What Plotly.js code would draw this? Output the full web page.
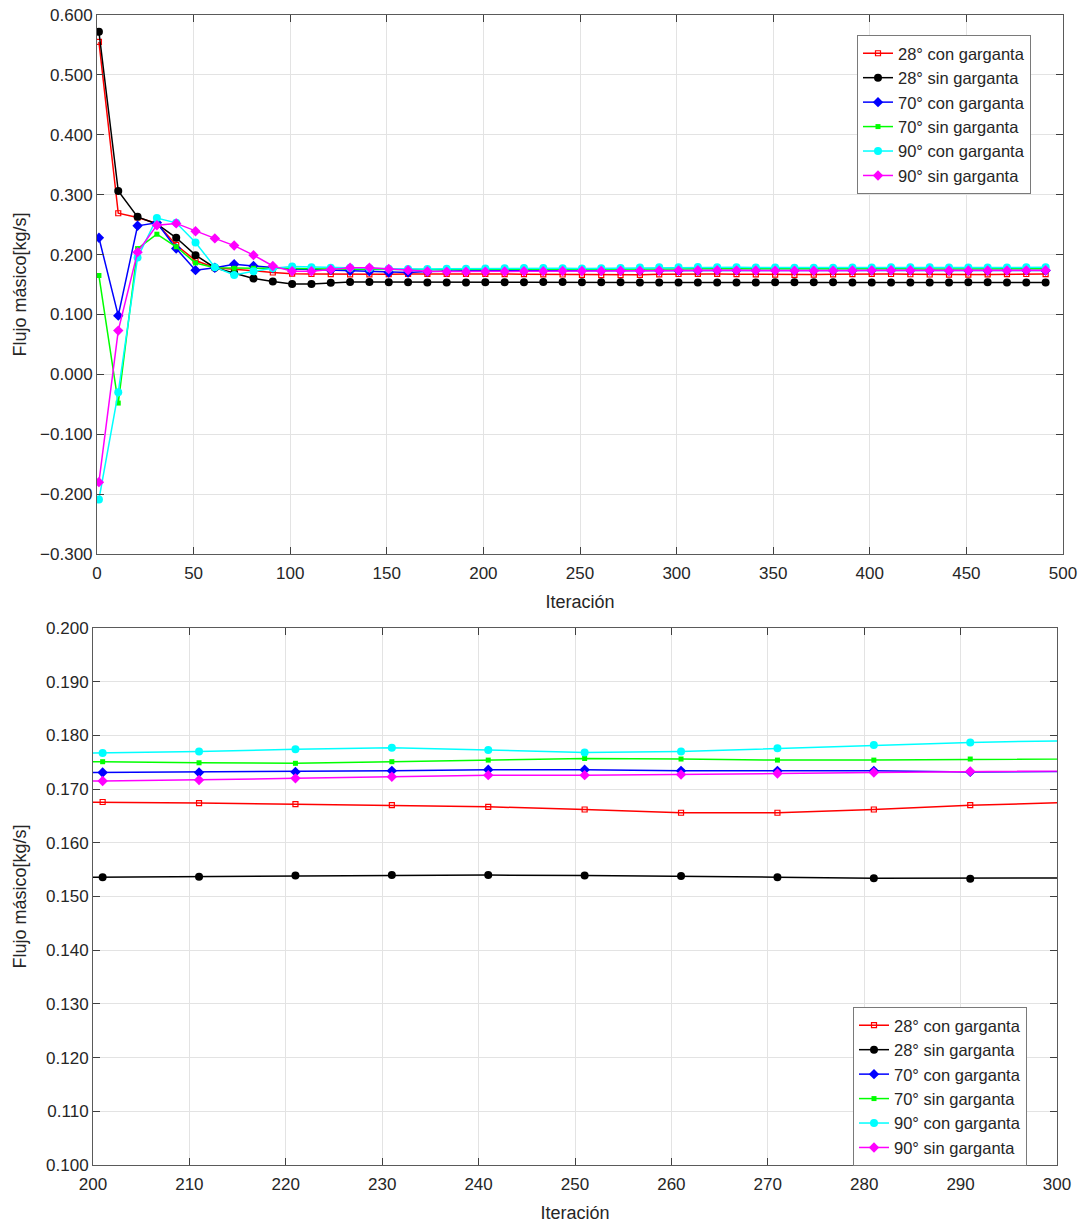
<!DOCTYPE html>
<html>
<head>
<meta charset="utf-8">
<script src="https://cdn.plot.ly/plotly-3.0.1.min.js"></script>
<style>
  html, body { margin: 0; padding: 0; background: #ffffff; }
  #chart { width: 1081px; height: 1229px; }
</style>
</head>
<body>
<div id="chart"></div>
<script>
// Iteration numbers (x values)
const iteracion = [1, 11, 21, 31, 41, 51, 61, 71, 81, 91,
  101, 111, 121, 131, 141, 151, 161, 171, 181, 191,
  201, 211, 221, 231, 241, 251, 261, 271, 281, 291,
  301, 311, 321, 331, 341, 351, 361, 371, 381, 391,
  401, 411, 421, 431, 441, 451, 461, 471, 481, 491];

const seriesNames = ["28° con garganta", "28° sin garganta", "70° con garganta",
  "70° sin garganta", "90° con garganta", "90° sin garganta"];

const con28 = [0.555, 0.269, 0.262, 0.252, 0.216, 0.190, 0.178, 0.176, 0.173, 0.170,
  0.1680, 0.1675, 0.1672, 0.1670, 0.1670, 0.1672, 0.1675, 0.1677, 0.1678, 0.1677,
  0.1676, 0.1674, 0.1672, 0.1670, 0.1667, 0.1662, 0.1656, 0.1656, 0.1662, 0.1670,
  0.1675, 0.1677, 0.1676, 0.1672, 0.1668, 0.1664, 0.1662, 0.1665, 0.1670, 0.1674,
  0.1676, 0.1675, 0.1671, 0.1667, 0.1664, 0.1665, 0.1669, 0.1673, 0.1675, 0.1674];

const sin28 = [0.572, 0.306, 0.263, 0.251, 0.228, 0.199, 0.178, 0.169, 0.160, 0.155,
  0.151, 0.151, 0.153, 0.1540, 0.1540, 0.1538, 0.1536, 0.1535, 0.1535, 0.1535,
  0.1536, 0.1537, 0.1539, 0.1540, 0.1540, 0.1539, 0.1538, 0.1536, 0.1534, 0.1533,
  0.1532, 0.1532, 0.1533, 0.1534, 0.1535, 0.1536, 0.1537, 0.1537, 0.1536, 0.1535,
  0.1534, 0.1533, 0.1533, 0.1534, 0.1535, 0.1536, 0.1536, 0.1535, 0.1534, 0.1534];

const con70 = [0.228, 0.098, 0.248, 0.253, 0.210, 0.174, 0.178, 0.184, 0.181, 0.178,
  0.176, 0.175, 0.174, 0.173, 0.172, 0.170, 0.170, 0.1715, 0.1725, 0.1730,
  0.1731, 0.1731, 0.1732, 0.1734, 0.1736, 0.1736, 0.1734, 0.1734, 0.1734, 0.1732,
  0.1734, 0.1735, 0.1736, 0.1737, 0.1737, 0.1736, 0.1735, 0.1734, 0.1734, 0.1735,
  0.1736, 0.1737, 0.1737, 0.1736, 0.1735, 0.1734, 0.1735, 0.1736, 0.1736, 0.1735];

const sin70 = [0.165, -0.048, 0.210, 0.234, 0.213, 0.186, 0.178, 0.177, 0.177, 0.177,
  0.177, 0.1765, 0.176, 0.1755, 0.175, 0.175, 0.175, 0.1752, 0.1752, 0.1751,
  0.1751, 0.1749, 0.1748, 0.1751, 0.1754, 0.1757, 0.1756, 0.1754, 0.1754, 0.1756,
  0.1759, 0.1761, 0.1762, 0.1762, 0.1761, 0.1759, 0.1758, 0.1758, 0.1759, 0.1761,
  0.1762, 0.1763, 0.1762, 0.1760, 0.1759, 0.1759, 0.1760, 0.1762, 0.1763, 0.1763];

const con90 = [-0.209, -0.030, 0.195, 0.261, 0.253, 0.220, 0.179, 0.166, 0.172, 0.177,
  0.180, 0.179, 0.178, 0.178, 0.177, 0.1765, 0.176, 0.176, 0.1763, 0.1765,
  0.1767, 0.1770, 0.1774, 0.1777, 0.1773, 0.1768, 0.1770, 0.1776, 0.1782, 0.1787,
  0.1790, 0.1791, 0.1790, 0.1788, 0.1785, 0.1782, 0.1780, 0.1779, 0.1780, 0.1782,
  0.1785, 0.1787, 0.1788, 0.1787, 0.1785, 0.1783, 0.1782, 0.1783, 0.1786, 0.1789];

const sin90 = [-0.180, 0.073, 0.204, 0.249, 0.252, 0.239, 0.227, 0.215, 0.199, 0.181,
  0.172, 0.172, 0.175, 0.178, 0.178, 0.176, 0.174, 0.172, 0.1715, 0.1714,
  0.1715, 0.1717, 0.1720, 0.1723, 0.1726, 0.1726, 0.1727, 0.1729, 0.1731, 0.1733,
  0.1736, 0.1737, 0.1737, 0.1736, 0.1734, 0.1732, 0.1731, 0.1731, 0.1732, 0.1734,
  0.1736, 0.1737, 0.1737, 0.1736, 0.1734, 0.1733, 0.1733, 0.1734, 0.1736, 0.1737];

const seriesValues = [con28, sin28, con70, sin70, con90, sin90];
const seriesColors = ["#ff0000", "#000000", "#0000ff", "#00ff00", "#00ffff", "#ff00ff"];
const seriesSymbols = ["square-open", "circle", "diamond", "square", "circle", "diamond"];
const seriesSizes = [5, 8, 8, 5, 8, 8];

const traces = [];
[["x", "y", "legend"], ["x2", "y2", "legend2"]].forEach(([xa, ya, lg]) => {
  seriesValues.forEach((vals, i) => {
    traces.push({
      type: "scatter",
      mode: "lines+markers",
      name: seriesNames[i],
      x: iteracion,
      y: vals,
      xaxis: xa,
      yaxis: ya,
      legend: lg,
      line: { color: seriesColors[i], width: 1.5 },
      marker: {
        color: seriesColors[i],
        symbol: seriesSymbols[i],
        size: seriesSizes[i],
        line: { color: seriesColors[i], width: seriesSymbols[i] === "square-open" ? 1.2 : 0 }
      }
    });
  });
});

const font = "Liberation Sans, Arial, Helvetica, sans-serif";
const txtColor = "#262626";
const axisCommon = {
  showline: true,
  linecolor: "#5a5a5a",
  linewidth: 1,
  mirror: "ticks",
  ticks: "inside",
  ticklen: 7,
  tickcolor: "#404040",
  showgrid: true,
  gridcolor: "#e3e3e3",
  gridwidth: 1,
  zeroline: false,
  tickfont: { family: font, size: 17, color: txtColor },
  automargin: false
};

const W = 1081, H = 1229;
const layout = {
  width: W,
  height: H,
  margin: { l: 0, r: 0, t: 0, b: 0 },
  paper_bgcolor: "#ffffff",
  plot_bgcolor: "#ffffff",
  font: { family: font, color: txtColor },
  showlegend: true,
  xaxis: Object.assign({}, axisCommon, {
    domain: [97 / W, 1063 / W],
    anchor: "y",
    range: [0, 500],
    dtick: 50,
    tick0: 0,
    ticklabelstandoff: 4,
    title: { text: "Iteración", font: { family: font, size: 18, color: txtColor }, standoff: 12 }
  }),
  yaxis: Object.assign({}, axisCommon, {
    domain: [1 - 554 / H, 1 - 15 / H],
    anchor: "x",
    range: [-0.3, 0.6],
    dtick: 0.1,
    tick0: 0,
    tickformat: ".3f",
    title: { text: "Flujo másico[kg/s]", font: { family: font, size: 18, color: txtColor }, standoff: 8 }
  }),
  xaxis2: Object.assign({}, axisCommon, {
    domain: [93 / W, 1057 / W],
    anchor: "y2",
    range: [200, 300],
    dtick: 10,
    tick0: 200,
    ticklabelstandoff: 4,
    title: { text: "Iteración", font: { family: font, size: 18, color: txtColor }, standoff: 12 }
  }),
  yaxis2: Object.assign({}, axisCommon, {
    domain: [1 - 1165 / H, 1 - 628 / H],
    anchor: "x2",
    range: [0.1, 0.2],
    dtick: 0.01,
    tick0: 0.1,
    tickformat: ".3f",
    title: { text: "Flujo másico[kg/s]", font: { family: font, size: 18, color: txtColor }, standoff: 14 }
  }),
  legend: {
    x: 1031 / W, xanchor: "right",
    y: 1 - 35 / H, yanchor: "top",
    bgcolor: "#ffffff",
    bordercolor: "#7a7a7a",
    borderwidth: 1,
    font: { family: font, size: 16.5, color: txtColor },
    itemwidth: 30,
    tracegroupgap: 0
  },
  legend2: {
    x: 1027 / W, xanchor: "right",
    y: 1 - 1007 / H, yanchor: "top",
    bgcolor: "#ffffff",
    bordercolor: "#7a7a7a",
    borderwidth: 1,
    font: { family: font, size: 16.5, color: txtColor },
    itemwidth: 30,
    tracegroupgap: 0
  }
};

Plotly.newPlot("chart", traces, layout, { staticPlot: true, displayModeBar: false });
</script>
</body>
</html>
